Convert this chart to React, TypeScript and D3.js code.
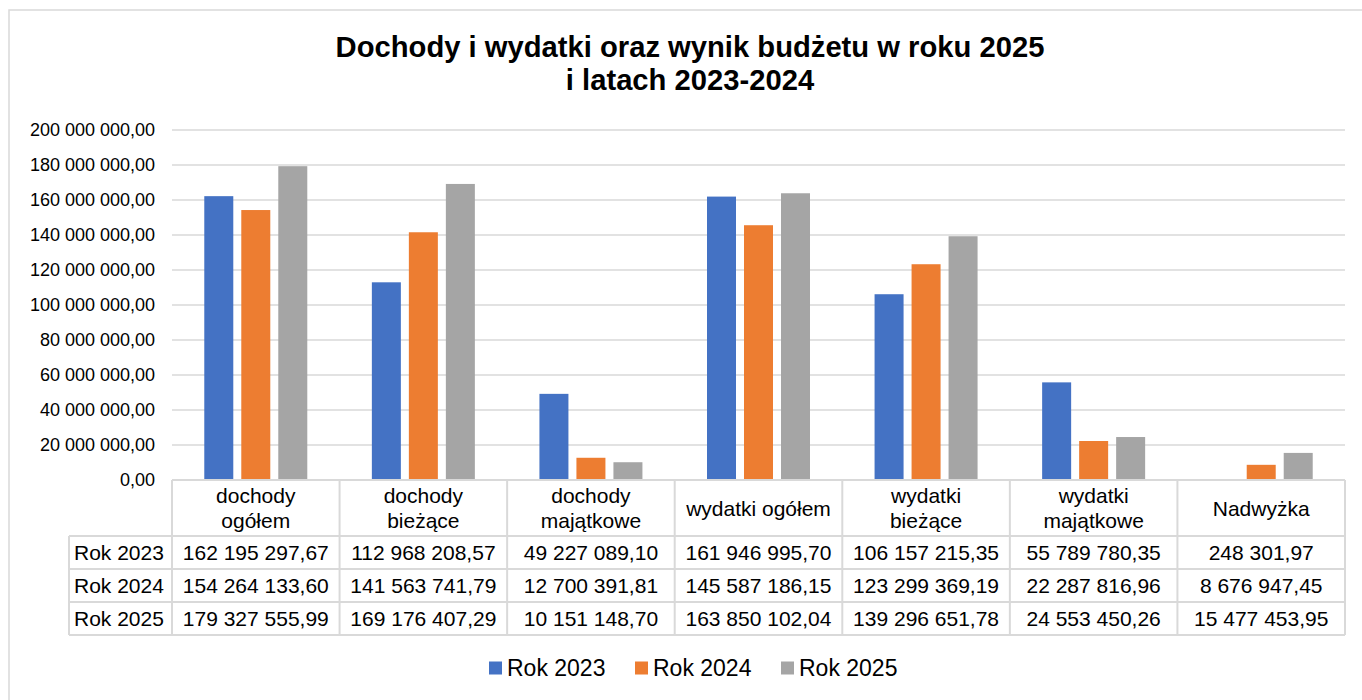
import React from "react";
import * as d3 from "d3";

const categories: string[][] = [
  ["dochody", "ogółem"],
  ["dochody", "bieżące"],
  ["dochody", "majątkowe"],
  ["wydatki ogółem"],
  ["wydatki", "bieżące"],
  ["wydatki", "majątkowe"],
  ["Nadwyżka"],
];
const seriesNames = ["Rok 2023", "Rok 2024", "Rok 2025"];
const values2023 = [162195297.67, 112968208.57, 49227089.1, 161946995.7, 106157215.35, 55789780.35, 248301.97];
const values2024 = [154264133.6, 141563741.79, 12700391.81, 145587186.15, 123299369.19, 22287816.96, 8676947.45];
const values2025 = [179327555.99, 169176407.29, 10151148.7, 163850102.04, 139296651.78, 24553450.26, 15477453.95];
const seriesValues = [values2023, values2024, values2025];
const colors = ["#4472C4", "#ED7D31", "#A5A5A5"];
const yMax = 200000000;

const locale = d3.formatLocale({ decimal: ",", thousands: " ", grouping: [3], currency: ["", ""] });
const fmt = locale.format(",.2f");

const FONT = "'Liberation Sans', Arial, sans-serif";

export default function App() {
  const left = 172, right = 1345, top = 130, bottom = 480;
  const x = d3.scaleBand<number>().domain(d3.range(categories.length)).range([left, right]).padding(0);
  const y = d3.scaleLinear().domain([0, yMax]).range([bottom, top]);
  const step = x.bandwidth();
  const inner = d3.scaleBand<number>().domain([0, 1, 2]).range([0, 103]).paddingInner(8 / 37).paddingOuter(0);
  const groupOffset = (step - 103) / 2;
  const ticks = y.ticks(10);

  const headerBottom = 536;
  const rowH = 33;
  const labelLeft = 69;
  const tableBottom = headerBottom + rowH * 3;
  const grid = "#d9d9d9";

  return (
    <svg width={1362} height={700} style={{ position: "absolute", left: 0, top: 0, background: "#fff" }} fontFamily={FONT}>
      <rect x={9} y={10} width={1400} height={720} fill="#fff" stroke={grid} strokeWidth={1.5} />
      <text x={690} y={47} textAnchor="middle" dominantBaseline="central" fontSize={29.2} fontWeight="bold" fill="#000">
        Dochody i wydatki oraz wynik budżetu w roku 2025
      </text>
      <text x={690} y={80} textAnchor="middle" dominantBaseline="central" fontSize={29.2} fontWeight="bold" fill="#000">
        i latach 2023-2024
      </text>
      {ticks.map((t) => (
        <g key={t}>
          {t > 0 && <line x1={left} x2={right} y1={y(t)} y2={y(t)} stroke={grid} strokeWidth={1.5} />}
          <text x={155} y={y(t)} textAnchor="end" dominantBaseline="central" fontSize={18} fill="#000">
            {fmt(t)}
          </text>
        </g>
      ))}
      {seriesValues.map((vals, s) =>
        vals.map((v, i) => (
          <rect
            key={`${s}-${i}`}
            x={(x(i) as number) + groupOffset + (inner(s) as number)}
            y={y(v)}
            width={inner.bandwidth()}
            height={bottom - y(v)}
            fill={colors[s]}
          />
        ))
      )}
      <line x1={left} x2={right} y1={bottom} y2={bottom} stroke={grid} strokeWidth={2} />
      {d3.range(4).map((r) => (
        <line key={`h${r}`} x1={labelLeft} x2={right} y1={headerBottom + r * rowH} y2={headerBottom + r * rowH} stroke={grid} strokeWidth={2} />
      ))}
      <line x1={labelLeft} x2={labelLeft} y1={headerBottom} y2={tableBottom} stroke={grid} strokeWidth={2} />
      {d3.range(categories.length + 1).map((c) => {
        const xx = c < categories.length ? (x(c) as number) : right;
        return <line key={`v${c}`} x1={xx} x2={xx} y1={bottom} y2={tableBottom} stroke={grid} strokeWidth={2} />;
      })}
      {categories.map((lines, i) => {
        const cx = (x(i) as number) + step / 2;
        const cy = 508;
        return (
          <text key={`c${i}`} textAnchor="middle" fontSize={21} fill="#000">
            {lines.map((ln, k) => (
              <tspan key={k} x={cx} y={cy + (k - (lines.length - 1) / 2) * 25} dominantBaseline="central">
                {ln}
              </tspan>
            ))}
          </text>
        );
      })}
      {seriesNames.map((name, s) => {
        const cy = headerBottom + s * rowH + rowH / 2;
        return (
          <g key={`r${s}`}>
            <text x={74} y={cy} dominantBaseline="central" fontSize={21} fill="#000">
              {name}
            </text>
            {seriesValues[s].map((v, i) => (
              <text key={i} x={(x(i) as number) + step / 2} y={cy} textAnchor="middle" dominantBaseline="central" fontSize={21} fill="#000">
                {fmt(v)}
              </text>
            ))}
          </g>
        );
      })}
      {seriesNames.map((name, s) => {
        const lx = 489 + s * 146;
        return (
          <g key={`l${s}`}>
            <rect x={lx} y={661.5} width={13} height={13} fill={colors[s]} />
            <text x={lx + 18} y={668} dominantBaseline="central" fontSize={23} fill="#000">
              {name}
            </text>
          </g>
        );
      })}
    </svg>
  );
}
